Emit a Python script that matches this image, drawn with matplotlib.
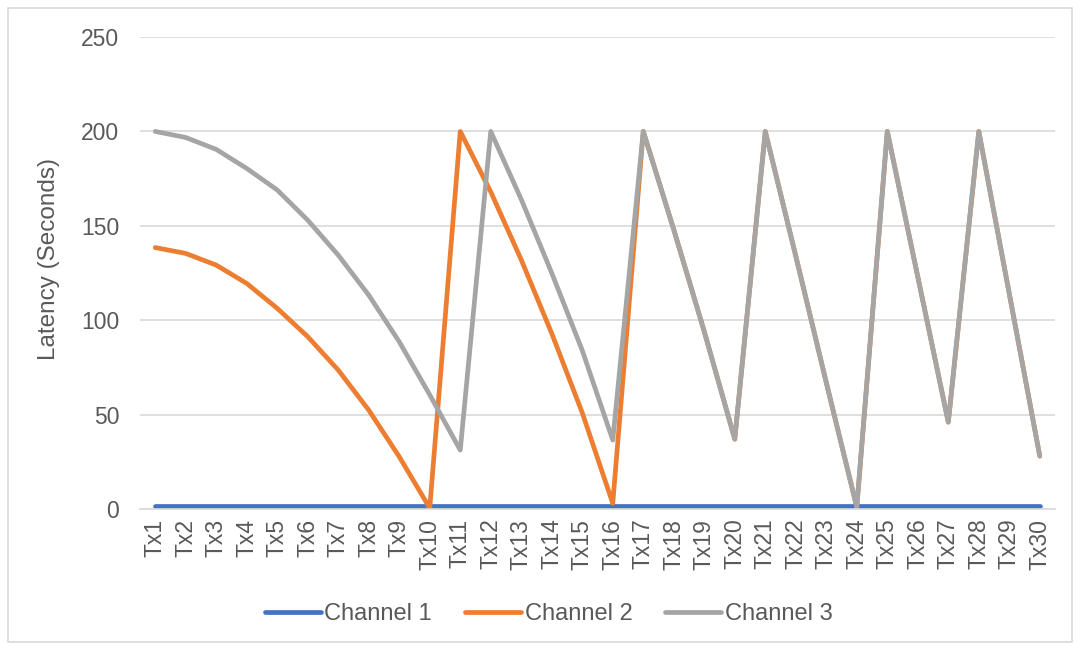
import matplotlib.pyplot as plt

plt.rcParams['font.family'] = ['Liberation Sans', 'DejaVu Sans']

# Transaction labels
tx_labels = [f"Tx{i}" for i in range(1, 31)]

# Latency per channel (seconds)
channel_1 = [1.5] * 30
channel_2 = [138.5, 135.4, 129.2, 119.5, 106.3, 91.3, 73.6, 52.4, 27.7, 0.5,
             200, 168, 132, 93, 51, 3,
             200, 148, 94, 37,
             200, 134, 67, 1,
             200, 123, 46,
             200, 114, 28]
channel_3 = [200, 196.8, 190.5, 180.4, 169, 153, 134.5, 113.3, 88.6, 60.5,
             31.2, 200, 164, 125, 84, 36.5,
             200, 148, 94, 37,
             200, 134, 67, 1,
             200, 123, 46,
             200, 114, 28]

text_color = "#595959"
grid_color = "#D9D9D9"
fs = 16.5

fig = plt.figure(figsize=(10.8, 6.5), dpi=100)
ax = fig.add_axes([0.1296, 0.2169, 0.8473, 0.7261])

x = range(len(tx_labels))
ax.plot(x, channel_1, color="#4472C4", lw=3.4, solid_capstyle="round", label="Channel 1")
ax.plot(x, channel_2, color="#ED7D31", lw=3.4, solid_capstyle="round", solid_joinstyle="round", label="Channel 2")
ax.plot(x, channel_3, color="#A5A5A5", lw=3.4, solid_capstyle="round", solid_joinstyle="round", label="Channel 3")

ax.set_xlim(-0.5, len(tx_labels) - 0.5)
ax.set_ylim(0, 250)
ax.set_yticks([0, 50, 100, 150, 200, 250])
ax.set_xticks(list(x))
ax.set_xticklabels(tx_labels, rotation=90)

ax.yaxis.grid(True, color=grid_color, lw=1.2)
ax.set_axisbelow(True)
for side in ["top", "right", "left"]:
    ax.spines[side].set_visible(False)
ax.spines["bottom"].set_color(grid_color)
ax.spines["bottom"].set_linewidth(1.2)
ax.tick_params(axis="both", length=0, colors=text_color, labelsize=fs)
ax.tick_params(axis="y", pad=15)
ax.tick_params(axis="x", pad=7)

ax.set_ylabel("Latency (Seconds)", color=text_color, fontsize=17.5)
ax.yaxis.set_label_coords(-0.087, 0.53)

fig.legend(loc="center", bbox_to_anchor=(0.508, 0.055), ncol=3, frameon=False,
           fontsize=17, handlelength=2.37, handletextpad=0.15, columnspacing=1.4,
           labelcolor=text_color)

# Light border around the whole chart
fig.patches.append(plt.Rectangle((0.007, 0.012), 0.986, 0.976, transform=fig.transFigure,
                                 fill=False, edgecolor="#D9D9D9", lw=1.2))

fig.savefig("out.png", dpi=100)
